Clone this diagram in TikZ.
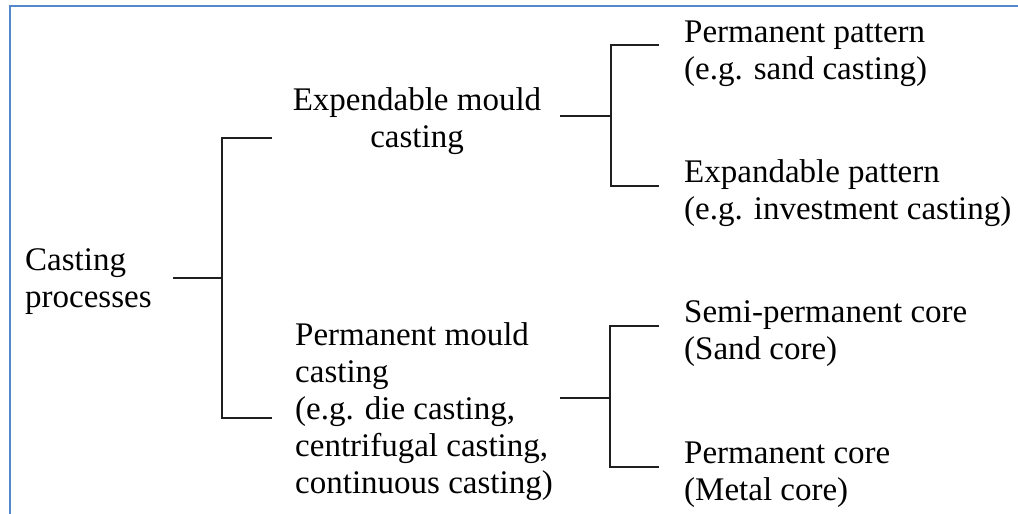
\documentclass[tikz,border=0pt]{standalone}
\usepackage{fontspec}
\setmainfont{Liberation Serif}
\definecolor{framecol}{RGB}{84,136,204}
\begin{document}
\begin{tikzpicture}[x=1pt,y=-1pt,
  txt/.style={inner sep=0pt, anchor=base west, font=\fontsize{33}{37}\selectfont},
  ctxt/.style={txt, anchor=base},
  link/.style={line width=2.8pt, draw=black!88, line cap=butt}]
\useasboundingbox (0,0) rectangle (1018,514);
\begin{scope}
\clip (0,0) rectangle (1018,514);
\draw[framecol, line width=2.4pt] (10,6) rectangle (1040,540);
\end{scope}

% texts
\node[txt] (root) at (25,270) {\begin{tabular}[t]{@{}l@{}}Casting\\processes\end{tabular}};
\node[ctxt] (exp) at (417,110) {\begin{tabular}[t]{@{}c@{}}Expendable mould\\casting\end{tabular}};
\node[txt] (perm) at (295,345) {\begin{tabular}[t]{@{}l@{}}Permanent mould\\casting\\(e.g. die casting,\\centrifugal casting,\\continuous casting)\end{tabular}};
\node[txt] (pp) at (684,42) {\begin{tabular}[t]{@{}l@{}}Permanent pattern\\(e.g. sand casting)\end{tabular}};
\node[txt] (ep) at (684,182) {\begin{tabular}[t]{@{}l@{}}Expandable pattern\\(e.g. investment casting)\end{tabular}};
\node[txt] (spc) at (684,322) {\begin{tabular}[t]{@{}l@{}}Semi-permanent core\\(Sand core)\end{tabular}};
\node[txt] (pc) at (684,463) {\begin{tabular}[t]{@{}l@{}}Permanent core\\(Metal core)\end{tabular}};

% bracket coordinates
\coordinate (r0) at (173,278);
\coordinate (rj) at (222,278);
\coordinate (rt) at (272,138);
\coordinate (rb) at (272,418);
\coordinate (e0) at (560,116);
\coordinate (ej) at (611,116);
\coordinate (et) at (659,45);
\coordinate (eb) at (659,186);
\coordinate (p0) at (560,398);
\coordinate (pj) at (610,398);
\coordinate (pt) at (659,326);
\coordinate (pb) at (659,467);

% connectors
\draw[link] (r0) -- (rj);
\draw[link] (rt) -| (rj) |- (rb);
\draw[link] (e0) -- (ej);
\draw[link] (et) -| (ej) |- (eb);
\draw[link] (p0) -- (pj);
\draw[link] (pt) -| (pj) |- (pb);
\end{tikzpicture}
\end{document}
